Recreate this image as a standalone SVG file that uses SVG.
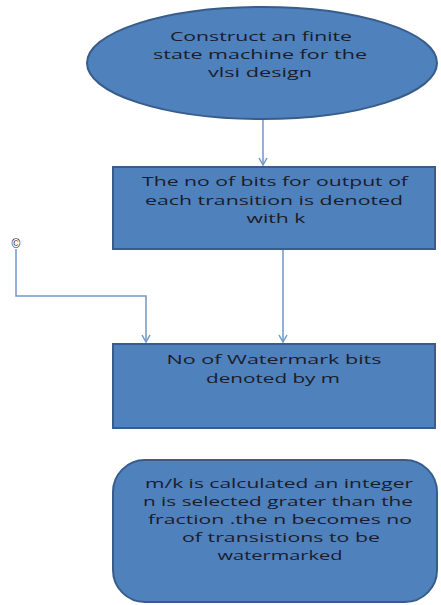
<svg xmlns="http://www.w3.org/2000/svg" width="441" height="605" viewBox="0 0 441 605">
<style>
.n{fill:#4f81bd;stroke:#385d8a;stroke-width:2}
.t{font-family:"Open Sans","Noto Sans",sans-serif;font-size:13px;fill:#1c1c2a;text-anchor:middle}
.c{fill:none;stroke:#6f97cb;stroke-width:1.5}
</style>
<defs>
<marker id="a" markerWidth="10" markerHeight="10" refX="8" refY="5" orient="auto" markerUnits="userSpaceOnUse">
<path d="M1,1 L8,5 L1,9" fill="none" stroke="#6f97cb" stroke-width="1.5"/>
</marker>
</defs>
<rect width="441" height="605" fill="#fff"/>
<g id="connectors">
<line class="c" x1="263" y1="119" x2="263" y2="165" marker-end="url(#a)"/>
<line class="c" x1="283" y1="249" x2="283" y2="342" marker-end="url(#a)"/>
<polyline class="c" points="16,249 16,296 146,296 146,342" marker-end="url(#a)"/>
</g>
<g id="n1">
<ellipse class="n" cx="262" cy="63" rx="175" ry="56"/>
<text class="t" x="261" y="41" textLength="182" lengthAdjust="spacingAndGlyphs">Construct an finite</text>
<text class="t" x="260" y="59" textLength="214" lengthAdjust="spacingAndGlyphs">state machine for the</text>
<text class="t" x="260" y="77" textLength="104" lengthAdjust="spacingAndGlyphs">vlsi design</text>
</g>
<g id="n2">
<rect class="n" x="113" y="167" width="322" height="82"/>
<text class="t" x="275" y="186" textLength="266" lengthAdjust="spacingAndGlyphs">The no of bits for output of</text>
<text class="t" x="274" y="205" textLength="258" lengthAdjust="spacingAndGlyphs">each transition is denoted</text>
<text class="t" x="276" y="223" textLength="59" lengthAdjust="spacingAndGlyphs">with k</text>
</g>
<g id="n3">
<rect class="n" x="113" y="344" width="322" height="84"/>
<text class="t" x="274" y="364" textLength="215" lengthAdjust="spacingAndGlyphs">No of Watermark bits</text>
<text class="t" x="273" y="383" textLength="134" lengthAdjust="spacingAndGlyphs">denoted by m</text>
</g>
<g id="n4">
<rect class="n" x="113" y="460" width="324" height="142" rx="32"/>
<text class="t" x="279" y="488" textLength="268" lengthAdjust="spacingAndGlyphs">m/k is calculated an integer</text>
<text class="t" x="278" y="506" textLength="270" lengthAdjust="spacingAndGlyphs">n is selected grater than the</text>
<text class="t" x="280" y="524" textLength="264" lengthAdjust="spacingAndGlyphs">fraction .the n becomes no</text>
<text class="t" x="281" y="542" textLength="198" lengthAdjust="spacingAndGlyphs">of transistions to be</text>
<text class="t" x="280" y="560" textLength="125" lengthAdjust="spacingAndGlyphs">watermarked</text>
</g>
<g id="n5">
<text x="16" y="248" style="font-family:'Liberation Sans',sans-serif;font-size:12px;fill:#1c1c2a;text-anchor:middle">©</text>
</g>
</svg>
